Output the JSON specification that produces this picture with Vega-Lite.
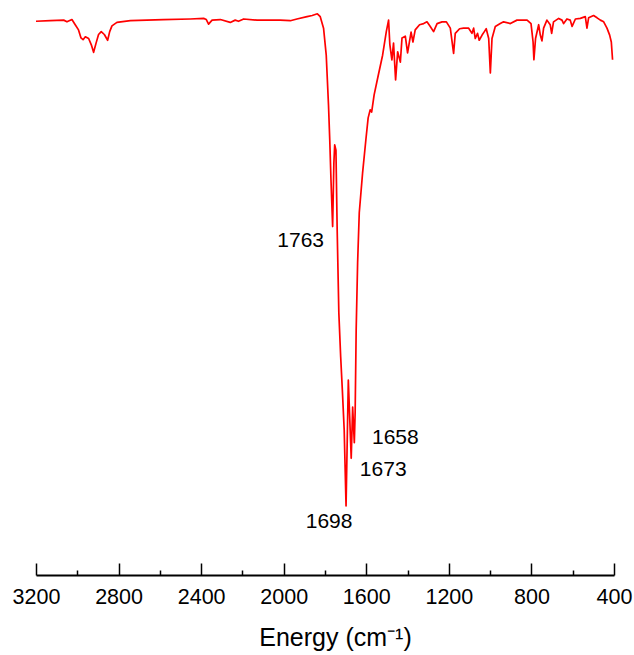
{
  "$schema": "https://vega.github.io/schema/vega-lite/v6.json",
  "width": 578,
  "height": 575,
  "autosize": {"type": "none"},
  "padding": {"left": 36, "top": 0, "right": 20, "bottom": 80},
  "config": {"view": {"stroke": null}, "font": "Liberation Sans"},
  "datasets": {
    "spectrum": [
      {"wavenumber": 3200, "T": 96.3}, {"wavenumber": 3131, "T": 96.4}, {"wavenumber": 3066, "T": 96.5}, {"wavenumber": 3050, "T": 96.2},
      {"wavenumber": 3026, "T": 96.6}, {"wavenumber": 3010, "T": 95.7}, {"wavenumber": 2994, "T": 94.8}, {"wavenumber": 2982, "T": 93.4},
      {"wavenumber": 2972, "T": 93.1}, {"wavenumber": 2961, "T": 93.6}, {"wavenumber": 2945, "T": 93.3}, {"wavenumber": 2932, "T": 92.2},
      {"wavenumber": 2921, "T": 90.9}, {"wavenumber": 2909, "T": 92.5}, {"wavenumber": 2897, "T": 94.0}, {"wavenumber": 2884, "T": 94.5},
      {"wavenumber": 2869, "T": 94.0}, {"wavenumber": 2853, "T": 93.0}, {"wavenumber": 2843, "T": 94.5}, {"wavenumber": 2832, "T": 95.5},
      {"wavenumber": 2808, "T": 96.1}, {"wavenumber": 2743, "T": 96.4}, {"wavenumber": 2583, "T": 96.6}, {"wavenumber": 2453, "T": 96.7},
      {"wavenumber": 2388, "T": 96.8}, {"wavenumber": 2375, "T": 96.6}, {"wavenumber": 2364, "T": 95.8}, {"wavenumber": 2347, "T": 96.5},
      {"wavenumber": 2307, "T": 96.6}, {"wavenumber": 2259, "T": 96.1}, {"wavenumber": 2235, "T": 96.5}, {"wavenumber": 2219, "T": 96.3},
      {"wavenumber": 2194, "T": 96.7}, {"wavenumber": 2129, "T": 96.5}, {"wavenumber": 2017, "T": 96.5}, {"wavenumber": 1968, "T": 96.4},
      {"wavenumber": 1936, "T": 96.7}, {"wavenumber": 1887, "T": 97.1}, {"wavenumber": 1862, "T": 97.3}, {"wavenumber": 1837, "T": 97.6},
      {"wavenumber": 1823, "T": 97.1}, {"wavenumber": 1807, "T": 95.1}, {"wavenumber": 1794, "T": 90.4}, {"wavenumber": 1783, "T": 81.7},
      {"wavenumber": 1777, "T": 75.7}, {"wavenumber": 1771, "T": 68.7}, {"wavenumber": 1763, "T": 60.6}, {"wavenumber": 1757, "T": 71.7},
      {"wavenumber": 1753, "T": 74.8}, {"wavenumber": 1747, "T": 73.9}, {"wavenumber": 1741, "T": 60.0}, {"wavenumber": 1733, "T": 45.6},
      {"wavenumber": 1724, "T": 37.9}, {"wavenumber": 1716, "T": 32.2}, {"wavenumber": 1707, "T": 25.2}, {"wavenumber": 1698, "T": 12.0},
      {"wavenumber": 1687, "T": 33.9}, {"wavenumber": 1673, "T": 20.3}, {"wavenumber": 1666, "T": 29.2}, {"wavenumber": 1658, "T": 23.0},
      {"wavenumber": 1654, "T": 28.2}, {"wavenumber": 1649, "T": 42.6}, {"wavenumber": 1642, "T": 54.3}, {"wavenumber": 1634, "T": 63.0},
      {"wavenumber": 1618, "T": 69.9}, {"wavenumber": 1602, "T": 75.7}, {"wavenumber": 1591, "T": 79.5}, {"wavenumber": 1581, "T": 80.9},
      {"wavenumber": 1574, "T": 80.5}, {"wavenumber": 1562, "T": 83.5}, {"wavenumber": 1545, "T": 86.4}, {"wavenumber": 1521, "T": 90.4},
      {"wavenumber": 1503, "T": 94.5}, {"wavenumber": 1492, "T": 96.5}, {"wavenumber": 1486, "T": 92.3}, {"wavenumber": 1476, "T": 89.6},
      {"wavenumber": 1468, "T": 92.5}, {"wavenumber": 1458, "T": 86.1}, {"wavenumber": 1448, "T": 91.0}, {"wavenumber": 1435, "T": 89.2},
      {"wavenumber": 1427, "T": 93.4}, {"wavenumber": 1411, "T": 93.7}, {"wavenumber": 1400, "T": 90.8}, {"wavenumber": 1383, "T": 94.4},
      {"wavenumber": 1374, "T": 92.7}, {"wavenumber": 1363, "T": 94.8}, {"wavenumber": 1342, "T": 95.7}, {"wavenumber": 1322, "T": 95.9},
      {"wavenumber": 1306, "T": 96.2}, {"wavenumber": 1290, "T": 95.4}, {"wavenumber": 1274, "T": 94.5}, {"wavenumber": 1257, "T": 95.9},
      {"wavenumber": 1233, "T": 96.2}, {"wavenumber": 1212, "T": 96.2}, {"wavenumber": 1193, "T": 95.1}, {"wavenumber": 1177, "T": 90.7},
      {"wavenumber": 1169, "T": 94.2}, {"wavenumber": 1148, "T": 95.0}, {"wavenumber": 1129, "T": 95.1}, {"wavenumber": 1104, "T": 95.1},
      {"wavenumber": 1088, "T": 94.2}, {"wavenumber": 1080, "T": 95.1}, {"wavenumber": 1072, "T": 93.3}, {"wavenumber": 1061, "T": 94.2},
      {"wavenumber": 1053, "T": 93.0}, {"wavenumber": 1039, "T": 93.9}, {"wavenumber": 1028, "T": 94.5}, {"wavenumber": 1019, "T": 95.0},
      {"wavenumber": 1007, "T": 93.3}, {"wavenumber": 999, "T": 87.3}, {"wavenumber": 991, "T": 93.3}, {"wavenumber": 975, "T": 95.4},
      {"wavenumber": 951, "T": 95.9}, {"wavenumber": 935, "T": 96.2}, {"wavenumber": 902, "T": 95.9}, {"wavenumber": 870, "T": 96.5},
      {"wavenumber": 821, "T": 96.5}, {"wavenumber": 802, "T": 95.9}, {"wavenumber": 792, "T": 92.7}, {"wavenumber": 788, "T": 89.6},
      {"wavenumber": 780, "T": 93.3}, {"wavenumber": 765, "T": 95.7}, {"wavenumber": 757, "T": 93.9}, {"wavenumber": 749, "T": 92.9},
      {"wavenumber": 741, "T": 95.1}, {"wavenumber": 725, "T": 96.5}, {"wavenumber": 709, "T": 95.7}, {"wavenumber": 702, "T": 94.2},
      {"wavenumber": 693, "T": 96.2}, {"wavenumber": 668, "T": 96.8}, {"wavenumber": 652, "T": 96.5}, {"wavenumber": 644, "T": 95.9},
      {"wavenumber": 628, "T": 96.7}, {"wavenumber": 612, "T": 96.5}, {"wavenumber": 603, "T": 95.4}, {"wavenumber": 587, "T": 96.7},
      {"wavenumber": 563, "T": 96.8}, {"wavenumber": 539, "T": 97.1}, {"wavenumber": 531, "T": 95.1}, {"wavenumber": 523, "T": 96.9},
      {"wavenumber": 499, "T": 97.3}, {"wavenumber": 482, "T": 96.9}, {"wavenumber": 466, "T": 96.5}, {"wavenumber": 450, "T": 96.2},
      {"wavenumber": 434, "T": 95.1}, {"wavenumber": 421, "T": 93.9}, {"wavenumber": 413, "T": 92.7}, {"wavenumber": 407, "T": 89.6}
    ],
    "peaks": [
      {"label": "1763", "wavenumber": 1763, "T": 60.6},
      {"label": "1698", "wavenumber": 1698, "T": 12.0},
      {"label": "1673", "wavenumber": 1673, "T": 20.3},
      {"label": "1658", "wavenumber": 1658, "T": 23.0}
    ]
  },
  "layer": [
    {
      "data": {"name": "spectrum"},
      "mark": {"type": "line", "color": "#ff0000", "strokeWidth": 1.7, "strokeJoin": "round"},
      "encoding": {
        "x": {
          "field": "wavenumber", "type": "quantitative",
          "scale": {"domain": [400, 3200], "reverse": true, "nice": false, "zero": false},
          "axis": {
            "title": "Energy (cm⁻¹)",
            "values": [400, 500, 600, 700, 800, 900, 1000, 1100, 1200, 1300, 1400, 1500, 1600, 1700, 1800, 1900, 2000, 2100, 2200, 2300, 2400, 2500, 2600, 2700, 2800, 2900, 3000, 3100, 3200],
            "format": "d",
            "labelExpr": "datum.value % 400 === 0 ? datum.label : ''",
            "tickSize": {"condition": {"test": "datum.value % 400 === 0", "value": -12}, "value": -5},
            "labelPadding": 23,
            "labelFlush": false,
            "labelOverlap": false,
            "labelFontSize": 21.5,
            "labelColor": "#000000",
            "domainColor": "#000000",
            "domainWidth": 1.8,
            "tickColor": "#000000",
            "tickWidth": 1.5,
            "grid": false,
            "titleFontSize": 25,
            "titleFontWeight": "normal",
            "titleColor": "#000000",
            "titleX": 299,
            "titleY": 70,
            "titleBaseline": "alphabetic"
          }
        },
        "y": {"field": "T", "type": "quantitative", "scale": {"domain": [0, 100], "nice": false}, "axis": null}
      }
    },
    {
      "data": {"name": "peaks"},
      "transform": [{"filter": "datum.label == '1763'"}],
      "mark": {"type": "text", "fontSize": 21, "color": "#000000", "align": "center", "baseline": "middle", "dx": -32, "dy": 14},
      "encoding": {"x": {"field": "wavenumber", "type": "quantitative"}, "y": {"field": "T", "type": "quantitative"}, "text": {"field": "label"}}
    },
    {
      "data": {"name": "peaks"},
      "transform": [{"filter": "datum.label == '1698'"}],
      "mark": {"type": "text", "fontSize": 21, "color": "#000000", "align": "center", "baseline": "middle", "dx": -17, "dy": 16},
      "encoding": {"x": {"field": "wavenumber", "type": "quantitative"}, "y": {"field": "T", "type": "quantitative"}, "text": {"field": "label"}}
    },
    {
      "data": {"name": "peaks"},
      "transform": [{"filter": "datum.label == '1673'"}],
      "mark": {"type": "text", "fontSize": 21, "color": "#000000", "align": "center", "baseline": "middle", "dx": 32, "dy": 12},
      "encoding": {"x": {"field": "wavenumber", "type": "quantitative"}, "y": {"field": "T", "type": "quantitative"}, "text": {"field": "label"}}
    },
    {
      "data": {"name": "peaks"},
      "transform": [{"filter": "datum.label == '1658'"}],
      "mark": {"type": "text", "fontSize": 21, "color": "#000000", "align": "center", "baseline": "middle", "dx": 41, "dy": -5},
      "encoding": {"x": {"field": "wavenumber", "type": "quantitative"}, "y": {"field": "T", "type": "quantitative"}, "text": {"field": "label"}}
    }
  ]
}
